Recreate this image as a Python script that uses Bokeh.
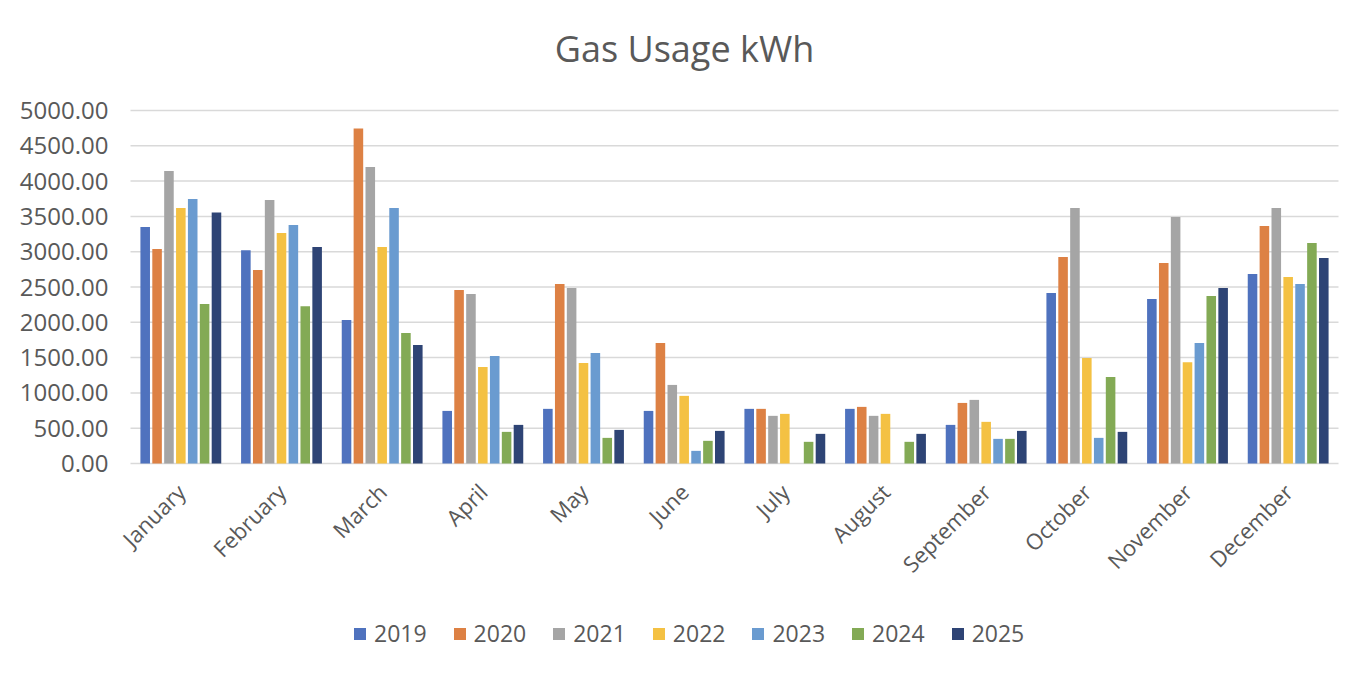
import math
from bokeh.plotting import figure
from bokeh.models import (FactorRange, ColumnDataSource, NumeralTickFormatter, FixedTicker,
                          Legend, LegendItem, Range1d, Label)
from bokeh.core.properties import value
from bokeh.transform import dodge
from bokeh.embed import file_html
from bokeh.resources import INLINE

months = ["January", "February", "March", "April", "May", "June", "July",
          "August", "September", "October", "November", "December"]
years = ["2019", "2020", "2021", "2022", "2023", "2024", "2025"]
y_ticks = [0, 500, 1000, 1500, 2000, 2500, 3000, 3500, 4000, 4500, 5000]
title_text = "Gas Usage kWh"
NaN = float("nan")

y2019 = [3349, 3019, 2033, 745, 774, 745, 774, 774, 547, 2415, 2330, 2684]
y2020 = [3038, 2741, 4745, 2458, 2542, 1708, 774, 802, 858, 2925, 2840, 3363]
y2021 = [4142, 3731, 4198, 2401, 2486, 1113, 675, 675, 901, 3618, 3491, 3618]
y2022 = [3618, 3264, 3066, 1368, 1425, 958, 703, 703, 590, 1495, 1434, 2642]
y2023 = [3745, 3377, 3618, 1524, 1566, 179, NaN, NaN, 349, 363, 1708, 2542]
y2024 = [2259, 2226, 1849, 448, 363, 321, 307, 307, 349, 1226, 2373, 3123]
y2025 = [3557, 3066, 1679, 547, 476, 462, 420, 420, 462, 448, 2486, 2910]

series = [y2019, y2020, y2021, y2022, y2023, y2024, y2025]
colors = ["#4F72BE", "#DD8144", "#A5A5A5", "#F4C143", "#6A9BD0", "#83AA55", "#2E4475"]

data = {"month": months, "base": [0] * len(months)}
for yr, vals in zip(years, series):
    data["y" + yr] = vals
source = ColumnDataSource(data)

grid_src = ColumnDataSource(dict(x0=[months[0]] * len(y_ticks),
                                 x1=[months[-1]] * len(y_ticks), y=y_ticks))

FONT = "Open Sans"
TXT = "#595959"

# pixel layout
CANVAS_H = 668
Y0_PX = 463          # screen y of value 0
YTOP_PX = 110        # screen y of top tick
PLOT_W = 1208        # width of the 12 categories
PAD_PX = 16
LEFT = 114
PLOT_H = Y0_PX - YTOP_PX
y_max = y_ticks[-1] + YTOP_PX * y_ticks[-1] / PLOT_H
y_min = -(CANVAS_H - Y0_PX) * y_ticks[-1] / PLOT_H

p = figure(x_range=FactorRange(*months, range_padding=len(months) * PAD_PX / PLOT_W,
                               range_padding_units="absolute"),
           y_range=Range1d(y_min, y_max),
           frame_width=PLOT_W + 2 * PAD_PX, frame_height=CANVAS_H,
           output_backend="svg", toolbar_location=None,
           min_border_left=LEFT, min_border_right=8, min_border_top=0, min_border_bottom=0)
p.outline_line_color = None
p.xaxis.visible = False
p.xgrid.grid_line_color = None
p.ygrid.grid_line_color = None

# horizontal gridlines across the category area
p.segment(x0=dodge("x0", -0.5, range=p.x_range), x1=dodge("x1", 0.5, range=p.x_range),
          y0="y", y1="y", source=grid_src, line_color="#D9D9D9", line_width=1.5)

items = []
for j, (yr, col) in enumerate(zip(years, colors)):
    off = (j - 3) * 0.118
    r = p.vbar(x=dodge("month", off, range=p.x_range), top="y" + yr, width=0.095,
               source=source, fill_color=col, line_color=None)
    items.append(LegendItem(label=yr, renderers=[r]))

# month labels under the baseline
p.text(x="month", y="base", text="month", source=source, angle=math.pi / 4,
       text_align="right", text_baseline="middle", y_offset=24,
       text_font=value(FONT), text_font_size="22px", text_color=TXT)

# title
p.add_layout(Label(x=684 - LEFT, y=CANVAS_H - 48, x_units="screen", y_units="screen",
                   text=title_text, text_align="center", text_baseline="alphabetic",
                   text_font=FONT, text_font_size="36px", text_color=TXT))

p.yaxis.ticker = FixedTicker(ticks=y_ticks)
p.yaxis.formatter = NumeralTickFormatter(format="0.00")
p.yaxis.axis_line_color = None
p.yaxis.major_tick_line_color = None
p.yaxis.minor_tick_line_color = None
p.yaxis.major_label_text_font = FONT
p.yaxis.major_label_text_font_size = "24px"
p.yaxis.major_label_text_color = TXT
p.yaxis.major_label_standoff = 0

legend = Legend(items=items, orientation="horizontal", location=(238, 19),
                label_text_font=FONT, label_text_font_size="23px", label_text_color=TXT,
                glyph_width=15, glyph_height=15, spacing=25, label_standoff=7,
                border_line_color=None, background_fill_alpha=0, margin=0, padding=10)
p.add_layout(legend, "center")

open("out.html", "w").write(file_html(p, INLINE))
